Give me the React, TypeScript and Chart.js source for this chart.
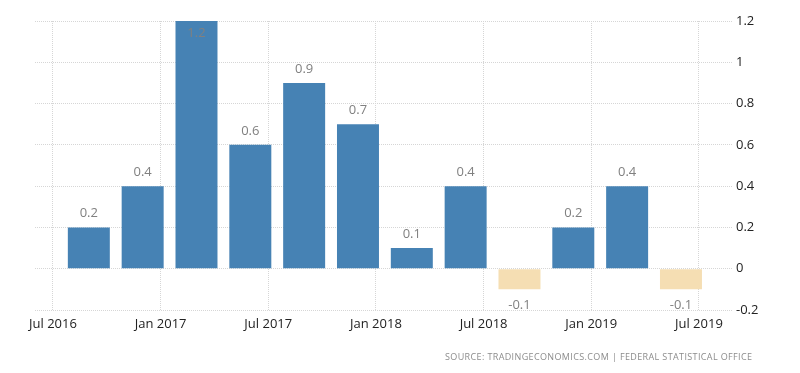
import { useEffect, useRef } from "react";
import { Chart, registerables } from "chart.js";

Chart.register(...registerables);

// Quarterly GDP growth (QoQ %), plotted at quarter-end month (months since Jul 2016)
const quarters = ["Q3 2016", "Q4 2016", "Q1 2017", "Q2 2017", "Q3 2017", "Q4 2017", "Q1 2018", "Q2 2018", "Q3 2018", "Q4 2018", "Q1 2019", "Q2 2019"];
const quarterEndMonth = [2, 5, 8, 11, 14, 17, 20, 23, 26, 29, 32, 35];
const values = [0.2, 0.4, 1.2, 0.6, 0.9, 0.7, 0.1, 0.4, -0.1, 0.2, 0.4, -0.1];
const xTickMonths = [0, 6, 12, 18, 24, 30, 36];
const xTickLabels = ["Jul 2016", "Jan 2017", "Jul 2017", "Jan 2018", "Jul 2018", "Jan 2019", "Jul 2019"];
const yTicks = [-0.2, 0, 0.2, 0.4, 0.6, 0.8, 1, 1.2];
const sourceText = "SOURCE: TRADINGECONOMICS.COM | FEDERAL STATISTICAL OFFICE";

const FONT = "'Open Sans', 'DejaVu Sans', sans-serif";

const valueLabels = {
  id: "valueLabels",
  afterDatasetsDraw(chart: any) {
    const ctx = chart.ctx;
    const meta = chart.getDatasetMeta(0);
    ctx.save();
    ctx.font = `13px ${FONT}`;
    ctx.fillStyle = "#808080";
    ctx.textAlign = "center";
    ctx.textBaseline = "middle";
    meta.data.forEach((bar: any, i: number) => {
      const v = values[i];
      const { x, y } = bar.getProps(["x", "y"], true);
      let ty: number;
      if (v >= 0) {
        ty = y - 14;
        if (ty - 7 < chart.chartArea.top) ty = y + 12;
      } else {
        ty = y + 16;
      }
      ctx.fillText(String(v), x, ty);
    });
    ctx.restore();
  },
};

const sourcePlugin = {
  id: "sourceText",
  afterDraw(chart: any) {
    const ctx = chart.ctx;
    ctx.save();
    ctx.font = `9px ${FONT}`;
    ctx.fillStyle = "#8c8c8c";
    ctx.textAlign = "left";
    ctx.textBaseline = "middle";
    (ctx as any).letterSpacing = "0px";
    const w0 = ctx.measureText(sourceText).width;
    const spacing = (307 - w0) / (sourceText.length - 1);
    (ctx as any).letterSpacing = `${spacing}px`;
    ctx.fillText(sourceText, 445, 357);
    ctx.restore();
  },
};

export default function App() {
  const ref = useRef<HTMLCanvasElement | null>(null);

  useEffect(() => {
    if (!ref.current) return;
    const chart = new Chart(ref.current, {
      type: "bar",
      data: {
        labels: quarters,
        datasets: [
          {
            label: "GDP Growth Rate",
            data: quarterEndMonth.map((m, i) => ({ x: m, y: values[i] })),
            backgroundColor: values.map((v) => (v >= 0 ? "#4682B4" : "#F5DEB3")),
            borderWidth: 0,
            barPercentage: 0.78,
            categoryPercentage: 1,
          },
        ],
      },
      options: {
        responsive: false,
        animation: false,
        devicePixelRatio: 1,
        layout: { padding: { left: 35, top: 21, right: 0, bottom: 0 } },
        plugins: {
          legend: { display: false },
          tooltip: { enabled: false },
          title: { display: false },
        },
        scales: {
          x: {
            type: "linear",
            position: "bottom",
            offset: false,
            min: -1,
            max: 37.9,
            afterBuildTicks: (scale: any) => {
              scale.ticks = xTickMonths.map((v) => ({ value: v }));
            },
            afterFit: (scale: any) => {
              scale.height = 63;
            },
            grid: { color: "#d6d6d6", drawTicks: false, lineWidth: 1, offset: false },
            border: { display: false, dash: [1, 1] },
            ticks: {
              autoSkip: false,
              maxRotation: 0,
              padding: 6,
              color: "#222222",
              font: { family: FONT, size: 13 },
              callback: (value: any) => {
                const idx = xTickMonths.indexOf(Number(value));
                return idx >= 0 ? xTickLabels[idx] : "";
              },
            },
          },
          y: {
            type: "linear",
            position: "right",
            min: -0.2,
            max: 1.2,
            afterBuildTicks: (scale: any) => {
              scale.ticks = yTicks.map((v) => ({ value: v }));
            },
            afterFit: (scale: any) => {
              scale.width = 67;
            },
            grid: { color: "#d6d6d6", drawTicks: false, lineWidth: 1 },
            border: { display: false, dash: [1, 1] },
            ticks: {
              padding: 3,
              color: "#222222",
              font: { family: FONT, size: 13 },
              callback: (value: any) => String(Number(Number(value).toFixed(1))),
            },
          },
        },
      },
      plugins: [valueLabels, sourcePlugin],
    });
    return () => chart.destroy();
  }, []);

  return (
    <div style={{ position: "absolute", left: 0, top: 0, width: 800, height: 373, background: "#ffffff" }}>
      <canvas ref={ref} width={800} height={373} />
    </div>
  );
}
